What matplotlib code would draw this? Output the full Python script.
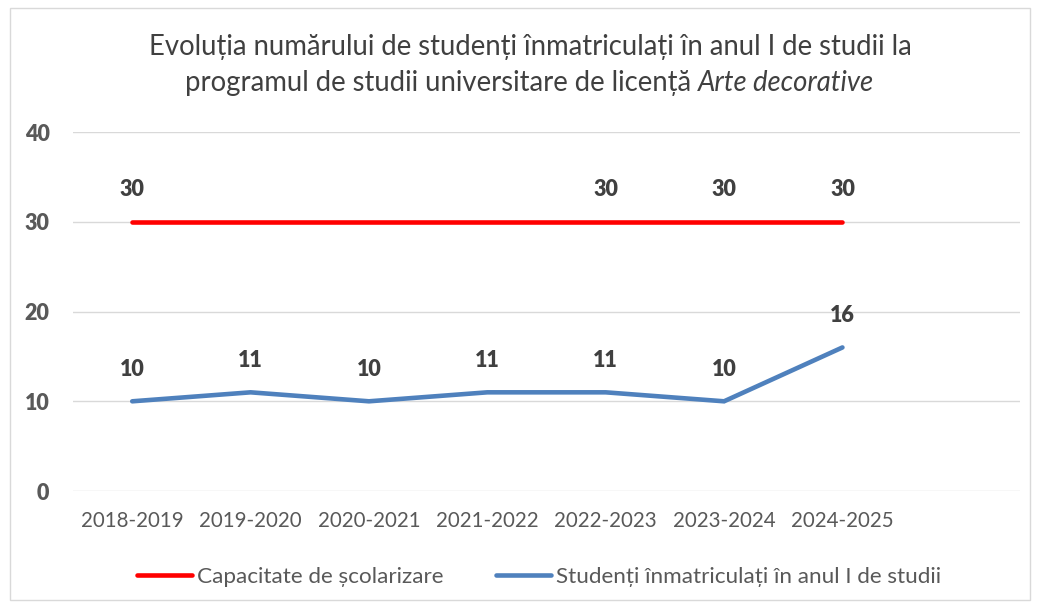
import numpy as np
import matplotlib.pyplot as plt
from matplotlib.patches import Rectangle

plt.rcParams['font.family'] = ['Lato', 'DejaVu Sans']

years = ['2018-2019', '2019-2020', '2020-2021', '2021-2022',
         '2022-2023', '2023-2024', '2024-2025', '']
capacitate = [30, 30, 30, 30, 30, 30, 30]
studenti = [10, 11, 10, 11, 11, 10, 16]
# which capacity points carry a label in the original
cap_labels = [True, False, False, False, True, True, True]

title1 = 'Evoluția numărului de studenți înmatriculați în anul I de studii la'
title2a = 'programul de studii universitare de licență '
title2b = 'Arte decorative'
leg_cap = 'Capacitate de școlarizare'
leg_stud = 'Studenți înmatriculați în anul I de studii'

txt = '#404040'
red = '#FF0000'
blue = '#4F81BD'

fig = plt.figure(figsize=(10.39, 6.07), dpi=100)
fig.add_artist(Rectangle((0.0096, 0.012), 0.982, 0.975, transform=fig.transFigure,
                         fill=False, edgecolor='#D9D9D9', lw=1))

ax = fig.add_axes([0.0703, 0.191, 0.9114, 0.5915])
x = np.arange(len(capacitate))
ax.plot(x, capacitate, color=red, lw=3.3, solid_capstyle='round', label=leg_cap)
ax.plot(x, studenti, color=blue, lw=3.3, solid_capstyle='round',
        solid_joinstyle='miter', label=leg_stud)

for i, v in enumerate(capacitate):
    if cap_labels[i]:
        ax.annotate(str(v), (i, v), xytext=(0, 23), textcoords='offset points',
                    ha='center', va='center', fontsize=15.5, fontweight='heavy', color=txt)
for i, v in enumerate(studenti):
    ax.annotate(str(v), (i, v), xytext=(0, 23), textcoords='offset points',
                ha='center', va='center', fontsize=15.5, fontweight='heavy', color=txt)

ax.set_xlim(-0.5, len(years) - 0.5)
ax.set_ylim(0, 40)
ax.set_yticks([0, 10, 20, 30, 40])
ax.set_xticks(np.arange(len(years)))
ax.set_xticklabels(years)
ax.tick_params(axis='x', length=0, pad=14, labelsize=14.8, labelcolor='#595959')
ax.tick_params(axis='y', length=0, pad=17, labelsize=15.5, labelcolor='#595959')
for lab in ax.get_yticklabels():
    lab.set_fontweight('heavy')
ax.grid(axis='y', color='#D9D9D9', lw=1)
ax.set_axisbelow(True)
for s in ax.spines.values():
    s.set_visible(False)

fig.text(0.51, 1 - 47 / 607, title1, ha='center', va='center', fontsize=19.8, color=txt)
fig.canvas.draw()
r = fig.canvas.get_renderer()
ta = fig.text(0, 1 - 83 / 607, title2a, ha='left', va='center', fontsize=19.8, color=txt)
tb = fig.text(0, 1 - 83 / 607, title2b, ha='left', va='center', fontsize=19.8,
              color=txt, style='italic')
wa = ta.get_window_extent(r).width / fig.bbox.width
wb = tb.get_window_extent(r).width / fig.bbox.width
x0 = 0.51 - (wa + wb) / 2
ta.set_x(x0)
tb.set_x(x0 + wa)

fig.legend(loc='center', bbox_to_anchor=(0.519, 1 - 577 / 607), ncol=2, frameon=False,
           fontsize=16.2, labelcolor='#595959', handlelength=2.45, handletextpad=0.22,
           columnspacing=2.35)

fig.savefig('out.png', dpi=100)
